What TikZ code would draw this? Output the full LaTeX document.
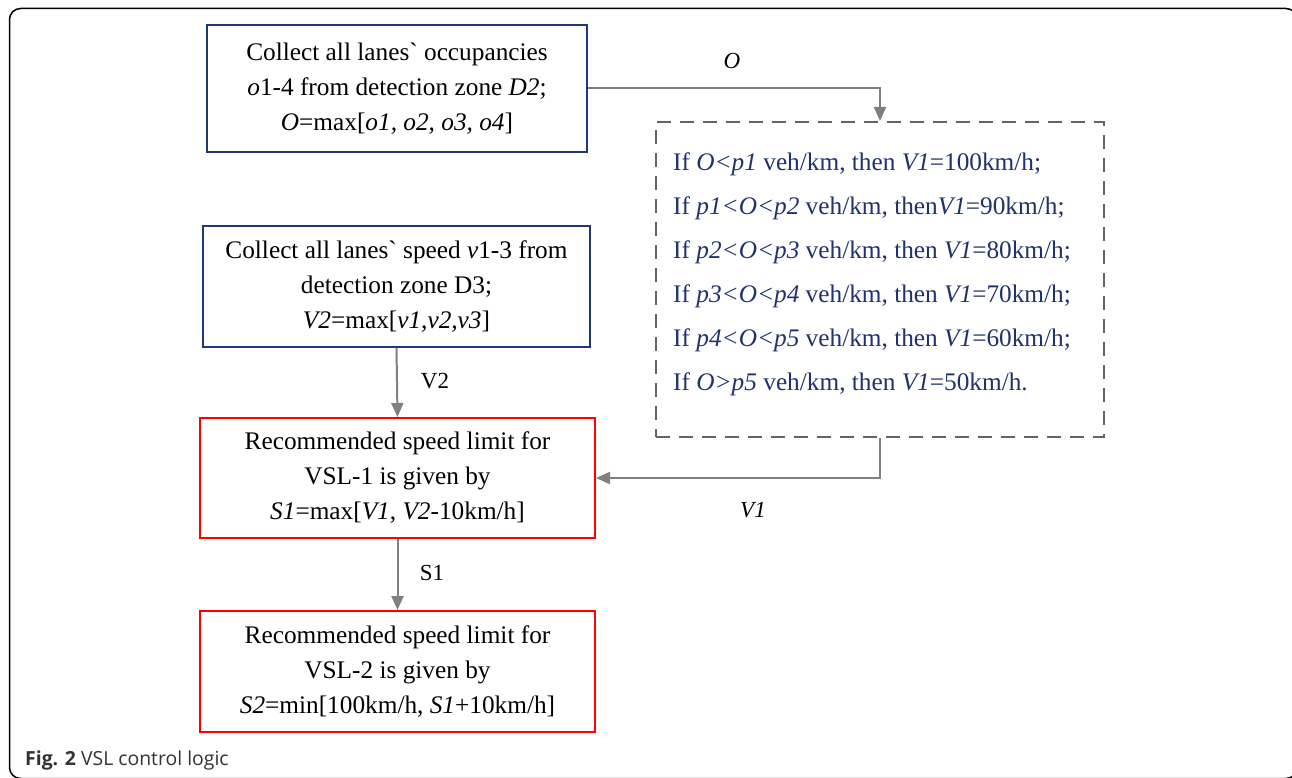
\documentclass[tikz,border=0pt]{standalone}
\usepackage{fontspec}
\setmainfont{Liberation Serif}
\newfontfamily\capfont{Open Sans}
\usetikzlibrary{arrows.meta}
\definecolor{navy}{RGB}{31,56,120}
\definecolor{txtblue}{RGB}{30,50,110}
\definecolor{arrgray}{RGB}{128,128,128}
\definecolor{dashgray}{RGB}{100,100,100}
\definecolor{capgray}{RGB}{50,50,50}
\tikzset{
  bluebox/.style={draw=navy, line width=2pt, align=center, inner sep=0pt, font=\fontsize{25.3}{35}\selectfont},
  redbox/.style={draw=red, line width=2pt, align=center, inner sep=0pt, font=\fontsize{25.3}{35}\selectfont},
  dashbox/.style={draw=dashgray, line width=2pt, dash pattern=on 14pt off 9pt, inner sep=0pt},
  flow/.style={draw=arrgray, line width=2pt, -{Triangle[length=14pt,width=12pt]}},
  lab/.style={font=\fontsize{23}{28}\selectfont, inner sep=0pt},
}
\begin{document}
\begin{tikzpicture}[x=1pt,y=-1pt]
\useasboundingbox (0,0) rectangle (1292,778);
\clip (0,0) rectangle (1292,778);
\draw[line width=1.5pt, rounded corners=11pt] (9.5,8.5) rectangle (1297,778.5);

\node[bluebox, minimum width=380pt, minimum height=127pt] (b1) at (397,88.5)
  {Collect all lanes\textasciigrave{} occupancies\\ \textit{o}1-4 from detection zone \textit{D2};\\ \textit{O}=max[\textit{o1, o2, o3, o4}]};
\node[bluebox, minimum width=387pt, minimum height=121pt] (b2) at (396.5,286.5)
  {Collect all lanes\textasciigrave{} speed \textit{v}1-3 from\\ detection zone D3;\\ \textit{V2}=max[\textit{v1,v2,v3}]};
\node[redbox, minimum width=395pt, minimum height=120pt] (b3) at (397.5,478)
  {Recommended speed limit for\\ VSL-1 is given by\\ \textit{S1}=max[\textit{V1}, \textit{V2}-10km/h]};
\node[redbox, minimum width=395pt, minimum height=121pt] (b4) at (397.5,671.5)
  {Recommended speed limit for\\ VSL-2 is given by\\ \textit{S2}=min[100km/h, \textit{S1}+10km/h]};

\node[dashbox, minimum width=448pt, minimum height=315pt] (d) at (880,279.5) {};
\node[anchor=west, align=left, inner sep=0pt, text=txtblue, font=\fontsize{25.3}{44}\selectfont] (rules) at (673,274)
  {If \textit{O<p1} veh/km, then \textit{V1}=100km/h;\\
   If \textit{p1<O<p2} veh/km, then\textit{V1}=90km/h;\\
   If \textit{p2<O<p3} veh/km, then \textit{V1}=80km/h;\\
   If \textit{p3<O<p4} veh/km, then \textit{V1}=70km/h;\\
   If \textit{p4<O<p5} veh/km, then \textit{V1}=60km/h;\\
   If \textit{O>p5} veh/km, then \textit{V1}=50km/h.};

\draw[flow] (b1.east) -| (d.north);
\draw[flow] (d.south) |- (b3.east);
\draw[flow] (b2.south) -- (b3.north);
\draw[flow] (b3.south) -- (b4.north);

\node[lab] (lO) at (732,61) {\textit{O}};
\node[lab] (lV1) at (753,510) {\textit{V1}};
\node[lab] (lV2) at (435,381) {V2};
\node[lab] (lS1) at (432,573) {S1};

\node[anchor=base west, inner sep=0pt, text=capgray, font=\capfont\fontsize{19.4}{24}\selectfont] (cap) at (25,765)
  {\textbf{Fig. 2} VSL control logic};
\end{tikzpicture}
\end{document}
